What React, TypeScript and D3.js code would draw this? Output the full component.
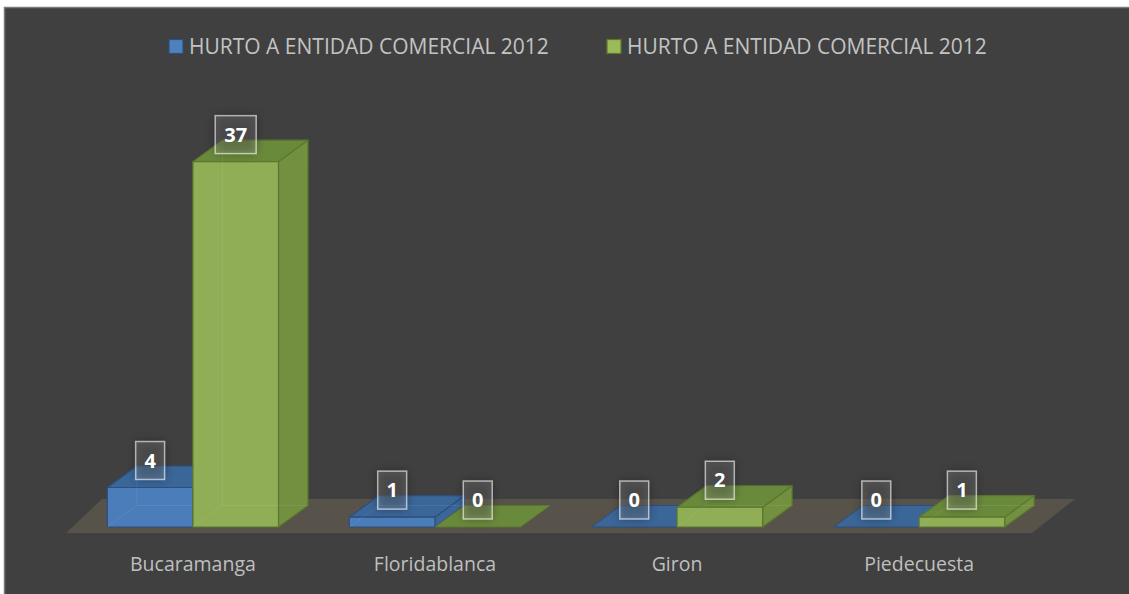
import * as d3 from 'd3';

const categories = ['Bucaramanga', 'Floridablanca', 'Giron', 'Piedecuesta'];
const seriesNames = ['HURTO A ENTIDAD COMERCIAL 2012', 'HURTO A ENTIDAD COMERCIAL 2012'];
const seriesA = [4, 1, 0, 0];
const seriesB = [37, 0, 2, 1];

const W = 1129;
const H = 594;
const DX = 29.5;
const DY = -21.5;

const palette = [
  { front: '#4a7dba', top: '#3a6698', side: '#3c6699', stroke: '#2c4f7d', legend: '#4f81bd' },
  { front: '#8fae55', top: '#6a8a3b', side: '#738f40', stroke: '#5a772d', legend: '#9bbb59' },
];

const x0 = d3.scaleBand<string>().domain(categories).range([72, 1040]).paddingInner(0.293).paddingOuter(0.146);
const x1 = d3.scaleBand<number>().domain([0, 1]).range([0, x0.bandwidth()]);
const y = d3.scaleLinear().domain([0, 40]).range([527, 132]);

const font = '"Open Sans", "Noto Sans", sans-serif';

type Bar = { cat: string; s: number; v: number; x: number; w: number };

const bars: Bar[] = [];
categories.forEach((c, i) => {
  [seriesA, seriesB].forEach((arr, s) => {
    bars.push({ cat: c, s, v: arr[i], x: x0(c)! + x1(s)!, w: x1.bandwidth() });
  });
});

const pts = (p: number[][]) => p.map(q => q.join(',')).join(' ');

function Box({ b }: { b: Bar }) {
  const col = palette[b.s];
  const y0 = y(0);
  const yt = y(b.v);
  const xl = b.x;
  const xr = b.x + b.w;
  if (b.v === 0) {
    return (
      <polygon points={pts([[xl, y0], [xr, y0], [xr + DX, y0 + DY], [xl + DX, y0 + DY]])}
        fill={col.top} stroke={col.stroke} strokeWidth={1} />
    );
  }
  return (
    <g stroke={col.stroke} strokeWidth={1.2} strokeLinejoin="round">
      <polygon points={pts([[xr, y0], [xr + DX, y0 + DY], [xr + DX, yt + DY], [xr, yt]])} fill={col.side} />
      <polygon points={pts([[xl, yt], [xr, yt], [xr + DX, yt + DY], [xl + DX, yt + DY]])} fill={col.top} />
      <rect x={xl} y={yt} width={b.w} height={y0 - yt} fill={col.front} />
      <polyline points={pts([[xl, y0], [xl + DX, y0 + DY], [xl + DX, yt + DY]])} fill="none"
        stroke="#ffffff" strokeOpacity={0.08} strokeWidth={1} />
      <line x1={xl + DX} y1={y0 + DY} x2={xr + DX} y2={y0 + DY} stroke="#ffffff" strokeOpacity={0.08} strokeWidth={1} />
    </g>
  );
}

function Label({ b }: { b: Bar }) {
  const txt = String(b.v);
  const bw = txt.length > 1 ? 41 : 29;
  const bh = 38;
  const cx = b.x + b.w / 2;
  const bottom = y(b.v) - 8;
  return (
    <g>
      <rect x={cx - bw / 2} y={bottom - bh} width={bw} height={bh} fill="#000" opacity={0.35} filter="url(#sh)" />
      <rect x={cx - bw / 2} y={bottom - bh} width={bw} height={bh} fill="#ffffff" fillOpacity={0.15}
        stroke="#ffffff" strokeOpacity={0.6} strokeWidth={1.5} />
      <text x={cx} y={bottom - bh / 2 + 7} textAnchor="middle" fontFamily={font} fontWeight={700}
        fontSize={20} fill="#ffffff">{txt}</text>
    </g>
  );
}

export default function App() {
  const y0 = y(0);
  const fl = x0.range()[0] - 6;
  const fr = x0.range()[1] - 8;
  const legendX = [169, 607];
  return (
    <svg width={W} height={H} style={{ position: 'absolute', left: 0, top: 0 }}>
      <defs>
        <filter id="sh" x="-50%" y="-50%" width="200%" height="200%">
          <feGaussianBlur stdDeviation="5" />
        </filter>
      </defs>
      <rect x={0} y={0} width={W} height={H} fill="#ffffff" />
      <rect x={4.5} y={7.5} width={W + 10} height={H + 10} fill="#404040" stroke="#7a7a7a" strokeWidth={1.5} />

      {seriesNames.map((n, i) => (
        <g key={i}>
          <rect x={legendX[i]} y={39.5} width={14} height={14} fill={palette[i].legend} stroke={palette[i].stroke} strokeWidth={1.2} />
          <text x={legendX[i] + 20} y={54} fontFamily={font} fontSize={21} fill="#c3c3c3">{n}</text>
        </g>
      ))}

      <polygon points={pts([[fl, y0 + 6], [fr, y0 + 6], [fr + 43, y0 - 28], [fl + 36, y0 - 28]])} fill="#57534a" />

      {bars.map((b, i) => <Box key={i} b={b} />)}
      {bars.map((b, i) => <Label key={i} b={b} />)}

      {categories.map(c => (
        <text key={c} x={x0(c)! + x0.bandwidth() / 2} y={571} textAnchor="middle" fontFamily={font}
          fontSize={19.5} fill="#bfbfbf">{c}</text>
      ))}
    </svg>
  );
}
